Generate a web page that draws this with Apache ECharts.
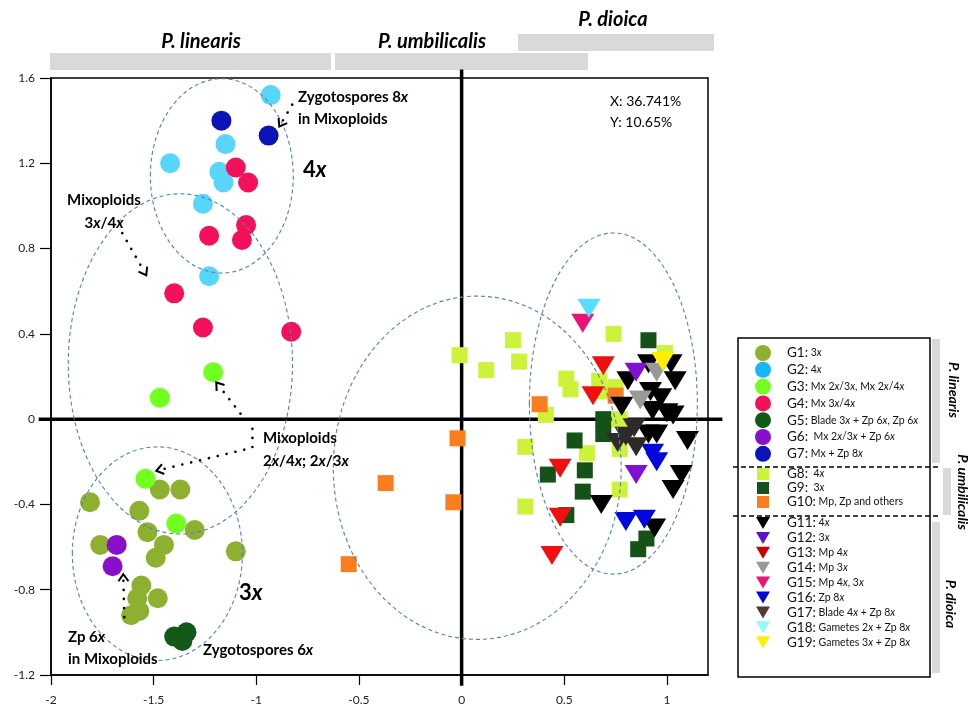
<!DOCTYPE html>
<html><head><meta charset="utf-8">
<script src="https://cdn.jsdelivr.net/npm/echarts@6/dist/echarts.min.js"></script>
<style>html,body{margin:0;padding:0;background:#fff}#c{width:973px;height:706px}</style>
</head><body><div id="c"></div>
<script>
// ---------- axis ticks ----------
const xTicks = [-2, -1.5, -1, -0.5, 0, 0.5, 1];
const yTicks = [-1.2, -0.8, -0.4, 0, 0.4, 0.8, 1.2, 1.6];

// ---------- series values (PC1, PC2) ----------
const G1 = [[-1.47,-0.33],[-1.37,-0.33],[-1.81,-0.39],[-1.57,-0.43],[-1.53,-0.53],[-1.30,-0.52],[-1.76,-0.59],[-1.45,-0.59],[-1.49,-0.65],[-1.10,-0.62],[-1.56,-0.78],[-1.48,-0.84],[-1.58,-0.84],[-1.57,-0.90],[-1.61,-0.92]];
const G2 = [[-0.93,1.52],[-1.15,1.29],[-1.42,1.20],[-1.18,1.16],[-1.16,1.11],[-1.26,1.01],[-1.23,0.67]];
const G3 = [[-1.21,0.22],[-1.47,0.10],[-1.54,-0.28],[-1.39,-0.49]];
const G4 = [[-1.10,1.18],[-1.04,1.11],[-1.05,0.91],[-1.07,0.84],[-1.23,0.86],[-1.40,0.59],[-1.26,0.43],[-0.83,0.41]];
const G5 = [[-1.40,-1.02],[-1.34,-1.00],[-1.36,-1.04]];
const G6 = [[-1.68,-0.59],[-1.70,-0.69]];
const G7 = [[-1.17,1.40],[-0.94,1.33]];
const G8 = [[0.25,0.37],[-0.01,0.30],[0.12,0.23],[0.28,0.27],[0.74,0.40],[0.51,0.19],[0.53,0.14],[0.67,0.18],[0.75,0.15],[0.68,0.13],[0.99,0.31],[0.41,0.02],[0.31,-0.13],[0.61,-0.16],[0.77,-0.14],[0.77,-0.33],[0.31,-0.41],[0.77,0.00]];
const G9 = [[0.91,0.37],[0.69,0.00],[0.69,-0.07],[0.55,-0.10],[0.42,-0.26],[0.60,-0.24],[0.59,-0.34],[0.51,-0.45],[0.90,-0.56],[0.86,-0.61]];
const G10 = [[0.38,0.07],[0.75,0.11],[-0.02,-0.09],[-0.37,-0.30],[-0.04,-0.39],[-0.55,-0.68]];
const G11 = [[0.81,0.18],[1.04,0.18],[1.02,0.26],[0.91,0.26],[0.92,0.13],[0.97,0.10],[0.78,0.06],[0.93,0.04],[1.00,0.03],[1.03,0.02],[0.91,-0.07],[0.95,-0.07],[1.10,-0.10],[1.07,-0.26],[1.03,-0.33],[0.68,-0.40],[0.94,-0.51]];
const G12 = [[0.85,0.22],[0.85,-0.26]];
const G13 = [[0.69,0.25],[0.64,0.11],[0.48,-0.23],[0.48,-0.46],[0.44,-0.64]];
const G14 = [[0.95,0.22],[0.87,0.09]];
const G15 = [[0.59,0.45]];
const G16 = [[0.93,-0.16],[0.95,-0.20],[0.80,-0.48],[0.89,-0.47]];
const G17 = [[0.80,-0.08],[0.76,-0.11],[0.85,-0.13],[0.84,-0.04]];
const G18 = [[0.62,0.52]];
const G19 = [[0.98,0.27]];

// ---------- group names / legend descriptions ----------
const groupNames = ['G1','G2','G3','G4','G5','G6','G7','G8','G9','G10','G11','G12','G13','G14','G15','G16','G17','G18','G19'];
const groupDesc = ['3x','4x','Mx 2x/3x, Mx 2x/4x','Mx 3x/4x','Blade 3x + Zp 6x, Zp 6x',' Mx 2x/3x + Zp 6x','Mx + Zp 8x',
  ' 4x',' 3x','Mp, Zp and others',
  '4x','3x','Mp 4x','Mp 3x','Mp 4x, 3x','Zp 8x','Blade 4x + Zp 8x','Gametes 2x + Zp 8x','Gametes 3x + Zp 8x'];
const speciesNames = ['P. linearis','P. umbilicalis','P. dioica'];

// ---------- annotation geometry in data units ----------
const ellipses = [ // cx, cy, rx, ry
  [-1.168, 1.141, 0.348, 0.456],
  [-1.370, 0.259, 0.546, 0.798],
  [-1.482, -0.631, 0.414, 0.501],
  [0.076, -0.228, 0.701, 0.805],
  [0.739, 0.073, 0.409, 0.800]
];
const arrows = [
  [[-0.825, 1.475], [-0.888, 1.372]],
  [[-1.653, 0.873], [-1.536, 0.675]],
  [[-1.077, 0.026], [-1.195, 0.172]],
  [[-1.019, -0.045], [-1.019, -0.134], [-1.487, -0.242]],
  [[-1.643, -0.929], [-1.648, -0.727]]
];
const zeroLineExt = {xMin: -2.06, xMax: 1.27, yMin: -1.25, yMax: 1.64};

const FF = 'Lato, "Open Sans", "Noto Sans", sans-serif';
const dataMap = {G1,G2,G3,G4,G5,G6,G7,G8,G9,G10,G11,G12,G13,G14,G15,G16,G17,G18,G19};
const colors = ['#8DB030','#57D6FA','#72FF22','#F2115A','#135A1A','#8A0FCC','#0A14B8',
  '#CDF23A','#145218','#FA7D1E',
  '#000000','#7E12D0','#F01010','#999999','#EB1278','#0008DC','#2E2A28','#57DDFF','#FFEE00'];
const legendColors = {G2:'#17B6F5', G12:'#5A14CE', G13:'#C80000', G17:'#4F3B33', G18:'#8CFCFF'};
const shapes = groupNames.map((n,i)=> i<7 ? 'circle' : (i<10 ? 'square' : 'tri'));
const SYM = {
  circle: {symbol:'circle', size:20, rotate:0},
  square: {symbol:'rect', size:16, rotate:0},
  tri: {symbol:'triangle', size:[23,19], rotate:180}
};

// rich text builder: digit followed by x -> italic x
function fmt(str, n, i) {
  let out = '', re = /(\d)x/g, last = 0, m;
  while ((m = re.exec(str))) {
    const seg = str.slice(last, m.index + 1);
    if (seg) out += '{' + n + '|' + seg + '}';
    out += '{' + i + '|x}';
    last = m.index + 2;
  }
  if (last < str.length) out += '{' + n + '|' + str.slice(last) + '}';
  return out;
}

const series = groupNames.map((name, i) => {
  const s = SYM[shapes[i]];
  return {
    type: 'scatter', name, data: dataMap[name],
    symbol: s.symbol, symbolSize: s.size, symbolRotate: s.rotate,
    itemStyle: {color: colors[i], opacity: 1},
    z: 3, silent: true
  };
});

series.unshift({
  type: 'custom', name: 'zeroLines', data: [[0, 0]], clip: false, z: 2, silent: true,
  renderItem(params, api) {
    const a = api.coord([0, zeroLineExt.yMax]), b = api.coord([0, zeroLineExt.yMin]);
    const c = api.coord([zeroLineExt.xMin, 0]), d = api.coord([zeroLineExt.xMax, 0]);
    return {type:'group', children:[
      {type:'line', shape:{x1:a[0], y1:a[1], x2:b[0], y2:b[1]}, style:{stroke:'#000', lineWidth:3.5}},
      {type:'line', shape:{x1:c[0], y1:c[1], x2:d[0], y2:d[1]}, style:{stroke:'#000', lineWidth:3.5}}
    ]};
  }
});

series.push({
  type: 'custom', name: 'ellipses', data: ellipses, clip: false, z: 6, silent: true,
  renderItem(params, api) {
    const c = api.coord([api.value(0), api.value(1)]);
    const sz = api.size([api.value(2), api.value(3)]);
    return {type:'ellipse', shape:{cx:c[0], cy:c[1], rx:sz[0], ry:sz[1]},
      style:{fill:null, stroke:'#4F81BD', lineWidth:1.1, lineDash:[4,3]}};
  }
});

series.push({
  type: 'custom', name: 'arrows', data: arrows.map(a => a[0]), clip: false, z: 6, silent: true,
  renderItem(params, api) {
    const pts = arrows[params.dataIndex].map(p => api.coord(p));
    const p1 = pts[pts.length-1], p0 = pts[pts.length-2];
    let dx = p1[0]-p0[0], dy = p1[1]-p0[1];
    const L = Math.hypot(dx, dy); dx /= L; dy /= L;
    const px = -dy, py = dx, h = 7, w = 5;
    const arm1 = [p1[0]-h*dx+w*px, p1[1]-h*dy+w*py];
    const arm2 = [p1[0]-h*dx-w*px, p1[1]-h*dy-w*py];
    const dotted = pts.slice(0, -1).concat([[p1[0]-4*dx, p1[1]-4*dy]]);
    return {type:'group', children:[
      {type:'polyline', shape:{points:dotted}, style:{stroke:'#000', lineWidth:2.6, lineDash:[0.1, 9], lineCap:'round', fill:null}},
      {type:'polyline', shape:{points:[arm1, p1, arm2]}, style:{stroke:'#000', lineWidth:2, fill:null}}
    ]};
  }
});

// ---------- legends ----------
const legendRich = {
  g: {fontFamily: FF, fontSize: 13.5, color: '#111', lineHeight: 16},
  t: {fontFamily: FF, fontSize: 10.5, color: '#111', lineHeight: 16},
  ti: {fontFamily: FF, fontSize: 10.5, fontStyle: 'italic', color: '#111', lineHeight: 16}
};
function legendFormatter(pad) {
  return function(name) {
    const i = groupNames.indexOf(name);
    return '{sp' + pad + '| }{g|' + name + ':}' + fmt(' ' + groupDesc[i], 't', 'ti');
  };
}
function makeLegend(from, to, icon, w, h, left, top, gap, pad) {
  const rich = Object.assign({}, legendRich);
  rich['sp' + pad] = {width: pad};
  return {
    orient: 'vertical', left, top, padding: 0, itemGap: gap, itemWidth: w, itemHeight: h,
    selectedMode: false,
    data: groupNames.slice(from, to).map(n => {
      const o = {name: n, icon};
      if (legendColors[n]) o.itemStyle = {color: legendColors[n]};
      return o;
    }),
    formatter: legendFormatter(pad),
    textStyle: {rich}
  };
}
const triIcon = 'path://M0,0L14,0L7,12Z';
const legends = [
  makeLegend(0, 7, 'circle', 16, 16, 755, 345, 0.8, 11),
  makeLegend(7, 10, 'rect', 12, 12, 757, 467, 0, 13),
  makeLegend(10, 19, triIcon, 14, 12, 756, 516, 0.9, 12)
];

// ---------- graphic decorations ----------
const annRich = {
  b: {fontFamily: FF, fontSize: 15, fontWeight: 'bold', fill: '#000'},
  bi: {fontFamily: FF, fontSize: 15, fontWeight: 'bold', fontStyle: 'italic', fill: '#000'},
  B: {fontFamily: FF, fontSize: 22, fontWeight: 'bold', fill: '#000'},
  BI: {fontFamily: FF, fontSize: 22, fontWeight: 'bold', fontStyle: 'italic', fill: '#000'}
};
function annText(str, x, y, align, lh, big) {
  return {type:'text', x, y, z: 100, silent: true, style: {
    text: fmt(str, big ? 'B' : 'b', big ? 'BI' : 'bi'), rich: annRich, align: align || 'left',
    verticalAlign: 'top', lineHeight: lh || 22, fill:'#000', font: 'bold 15px ' + FF
  }};
}
const hdrFont = 'italic bold 20px ' + FF;
const sideFont = 'italic bold 14px ' + FF;
const graphic = [
  {type:'rect', shape:{x:50, y:53, width:281, height:17}, style:{fill:'#D9D9D9'}, silent:true},
  {type:'rect', shape:{x:335, y:53, width:253, height:17}, style:{fill:'#D9D9D9'}, silent:true},
  {type:'rect', shape:{x:518, y:34, width:196, height:17}, style:{fill:'#D9D9D9'}, silent:true},
  {type:'text', x:201, y:42, style:{text:speciesNames[0], font:hdrFont, fill:'#000', align:'center', verticalAlign:'middle'}, silent:true},
  {type:'text', x:432, y:42, style:{text:speciesNames[1], font:hdrFont, fill:'#000', align:'center', verticalAlign:'middle'}, silent:true},
  {type:'text', x:613, y:20, style:{text:speciesNames[2], font:hdrFont, fill:'#000', align:'center', verticalAlign:'middle'}, silent:true},
  // legend frame & separators
  {type:'rect', shape:{x:738, y:338, width:192, height:339}, style:{fill:null, stroke:'#000', lineWidth:1.5}, silent:true},
  {type:'line', shape:{x1:733, y1:467, x2:940, y2:467}, style:{stroke:'#000', lineWidth:1.5, lineDash:[5,3]}, silent:true},
  {type:'line', shape:{x1:733, y1:516, x2:940, y2:516}, style:{stroke:'#000', lineWidth:1.5, lineDash:[5,3]}, silent:true},
  {type:'rect', shape:{x:932, y:339, width:8, height:124}, style:{fill:'#D9D9D9'}, silent:true},
  {type:'rect', shape:{x:943, y:468, width:8, height:47}, style:{fill:'#D9D9D9'}, silent:true},
  {type:'rect', shape:{x:932, y:522, width:8, height:151}, style:{fill:'#D9D9D9'}, silent:true},
  {type:'text', x:954, y:390, rotation:-Math.PI/2, style:{text:speciesNames[0], font:sideFont, fill:'#000', align:'center', verticalAlign:'middle'}, silent:true},
  {type:'text', x:963, y:492, rotation:-Math.PI/2, style:{text:speciesNames[1], font:sideFont, fill:'#000', align:'center', verticalAlign:'middle'}, silent:true},
  {type:'text', x:951, y:604, rotation:-Math.PI/2, style:{text:speciesNames[2], font:sideFont, fill:'#000', align:'center', verticalAlign:'middle'}, silent:true},
  // annotations
  annText('Zygotospores 8x\nin Mixoploids', 298, 86, 'left', 22),
  annText('4x', 303, 158, 'left', 24, true),
  annText('Mixoploids\n3x/4x', 104, 189, 'center', 23),
  annText('Mixoploids\n2x/4x; 2x/3x', 263, 427, 'left', 23),
  annText('3x', 239, 581, 'left', 24, true),
  annText('Zp 6x\nin Mixoploids', 68, 626, 'left', 22),
  annText('Zygotospores 6x', 203, 639, 'left', 22),
  {type:'text', x:610, y:91, z:100, silent:true, style:{text:'X: 36.741%\nY: 10.65%', font:'14px ' + FF, fill:'#000', lineHeight:21, verticalAlign:'top'}}
];

const option = {
  animation: false,
  backgroundColor: '#fff',
  grid: {left: 51, right: 265, top: 78, bottom: 30, show: true, borderColor: '#000', borderWidth: 1.5},
  xAxis: {
    type: 'value', min: -2, max: 1.2, interval: 0.5,
    axisLine: {show: true, onZero: false, lineStyle: {color: '#000', width: 1.5}},
    axisTick: {show: true, length: 10, customValues: xTicks, lineStyle: {color: '#000', width: 1.2}},
    axisLabel: {customValues: xTicks, color: '#222', fontSize: 12, fontFamily: FF, margin: 19},
    splitLine: {show: false}
  },
  yAxis: {
    type: 'value', min: -1.2, max: 1.6, interval: 0.4,
    axisLine: {show: true, onZero: false, lineStyle: {color: '#000', width: 1.5}},
    axisTick: {show: true, length: 11, customValues: yTicks, lineStyle: {color: '#000', width: 1.2}},
    axisLabel: {customValues: yTicks, color: '#222', fontSize: 12, fontFamily: FF, margin: 16},
    splitLine: {show: false}
  },
  legend: legends,
  graphic,
  series
};
const chart = echarts.init(document.getElementById('c'));
chart.setOption(option);
</script></body></html>
